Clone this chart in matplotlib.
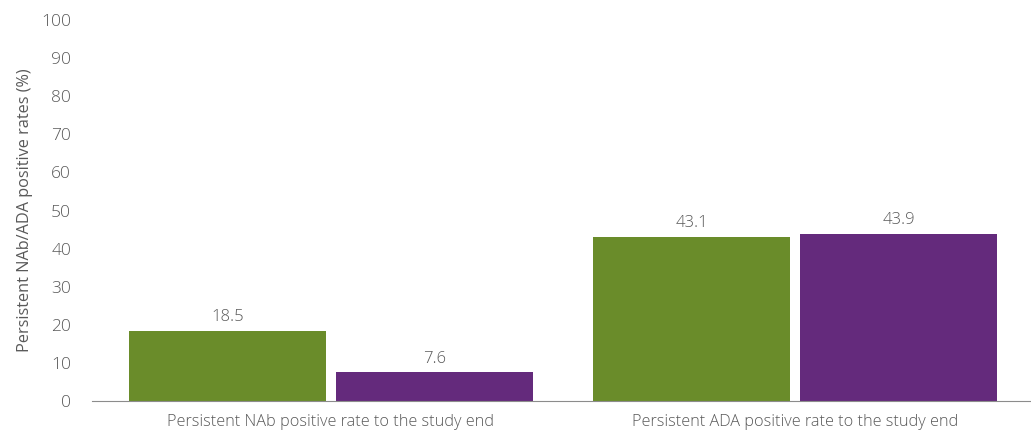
import matplotlib.pyplot as plt
import numpy as np

categories = ["Persistent NAb positive rate to the study end",
              "Persistent ADA positive rate to the study end"]
series_a = [18.5, 43.1]
series_b = [7.6, 43.9]
yticks = [0, 10, 20, 30, 40, 50, 60, 70, 80, 90, 100]

green = "#6a8c2a"
purple = "#642a7c"
grey = "#595959"

plt.rcParams['font.family'] = ['Open Sans', 'DejaVu Sans']
plt.rcParams['font.weight'] = 'light'

fig = plt.figure(figsize=(10.31, 4.30), dpi=100)
ax = fig.add_axes([0.0892, 0.0674, 0.9098, 0.8861])

x = np.arange(len(categories))
w = 0.425
off = 0.223
b1 = ax.bar(x - off, series_a, w, color=green)
b2 = ax.bar(x + off, series_b, w, color=purple)

for bars, vals in ((b1, series_a), (b2, series_b)):
    for r, v in zip(bars, vals):
        ax.annotate(f"{v}", (r.get_x() + r.get_width() / 2, v),
                    xytext=(0, 4), textcoords="offset points",
                    ha="center", va="bottom", fontsize=12, color=grey)

ax.set_xlim(-0.515, 1.506)
ax.set_ylim(0, 100)
ax.set_yticks(yticks)
ax.set_xticks(x)
ax.set_xticklabels(categories)
ax.tick_params(axis="both", length=0, colors=grey)
ax.tick_params(axis="y", pad=15, labelsize=12.5)
ax.tick_params(axis="x", pad=9, labelsize=11.7)
for s in ("top", "right", "left"):
    ax.spines[s].set_visible(False)
ax.spines["bottom"].set_color("#8c8c8c")
ax.set_ylabel("Persistent NAb/ADA positive rates (%)", fontsize=11.7, color=grey, labelpad=6)

fig.savefig("out.png", dpi=100)
